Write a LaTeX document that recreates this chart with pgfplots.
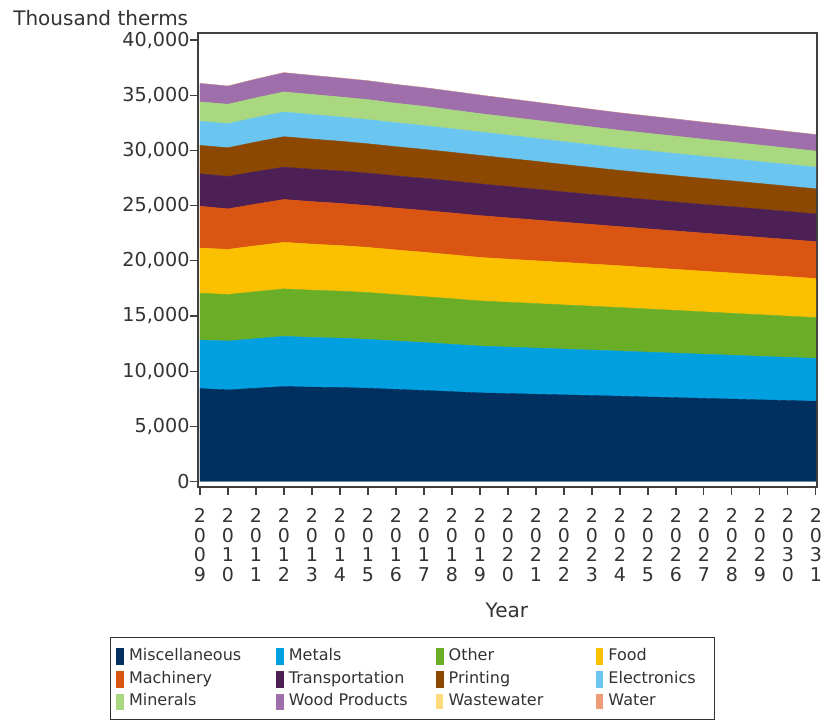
\documentclass[border=0pt]{standalone}
\usepackage{pgfplots}
\pgfplotsset{compat=1.18}
\usepackage{pgfplotstable}
\usepackage{fontspec}
\setmainfont{DejaVu Sans}
\definecolor{cmisc}{HTML}{00305F}
\definecolor{cmetals}{HTML}{009FDF}
\definecolor{cother}{HTML}{6AAE28}
\definecolor{cfood}{HTML}{FBC000}
\definecolor{cmach}{HTML}{DA5412}
\definecolor{ctrans}{HTML}{4D2055}
\definecolor{cprint}{HTML}{8C4700}
\definecolor{celec}{HTML}{6AC6F0}
\definecolor{cminer}{HTML}{AAD880}
\definecolor{cwood}{HTML}{9E6FAA}
\definecolor{cwaste}{HTML}{FFDA7B}
\definecolor{cwater}{HTML}{EE9C78}
\definecolor{txt}{HTML}{333333}

\pgfplotstableread{
year misc metals other food mach trans print elec miner wood waste water
2009 8420 4400 4240 4090 3790 2940 2570 2190 1750 1670 25 15
2010 8300 4430 4210 4090 3670 2940 2600 2180 1760 1640 25 15
2011 8450 4490 4260 4160 3780 2940 2680 2210 1790 1690 25 15
2012 8610 4540 4300 4220 3880 2930 2760 2240 1820 1730 25 15
2013 8550 4500 4280 4180 3850 2935 2730 2220 1820 1720 25 15
2014 8520 4470 4260 4130 3820 2940 2690 2200 1810 1710 25 15
2015 8450 4430 4240 4090 3790 2940 2660 2190 1810 1700 25 15
2016 8350 4380 4200 4050 3790 2925 2640 2170 1770 1690 25 15
2017 8250 4340 4160 4020 3790 2910 2620 2160 1740 1690 25 15
2018 8140 4290 4130 3980 3790 2895 2600 2140 1700 1680 25 15
2019 8030 4240 4090 3940 3790 2880 2580 2120 1660 1670 25 15
2020 7970 4210 4060 3910 3740 2840 2550 2100 1650 1650 25 15
2021 7910 4180 4030 3880 3690 2800 2520 2080 1640 1630 25 15
2022 7850 4150 4000 3850 3640 2750 2480 2070 1630 1610 25 15
2023 7790 4120 3970 3820 3590 2710 2450 2050 1620 1590 25 15
2024 7730 4090 3940 3790 3540 2670 2420 2030 1610 1570 25 15
2025 7660 4060 3910 3750 3510 2650 2400 2020 1590 1560 25 15
2026 7600 4030 3870 3720 3480 2620 2380 2010 1570 1550 25 15
2027 7530 4000 3840 3680 3450 2600 2360 2000 1550 1530 25 15
2028 7470 3970 3800 3650 3430 2580 2340 1990 1520 1520 25 15
2029 7400 3940 3770 3610 3400 2560 2320 1980 1500 1510 25 15
2030 7340 3910 3730 3580 3370 2530 2300 1970 1480 1490 25 15
2031 7270 3880 3700 3540 3340 2510 2280 1960 1460 1480 25 15
}\datatable

\newcommand{\lent}[1]{\makebox[50pt][l]{#1}}
\newcommand{\yr}[4]{\vbox{\baselineskip=9.85pt\lineskiplimit=-100pt\hbox{#1}\hbox{#2}\hbox{#3}\hbox{#4}}}

\begin{document}
\begin{tikzpicture}
\useasboundingbox (-99pt,-116pt) rectangle (312pt,243.5pt);
\begin{axis}[
  at={(0pt,0pt)}, anchor=south west,
  width=309.5pt, height=227pt, scale only axis,
  xmin=2008.93, xmax=2031.04, ymin=-500, ymax=40635,
  stack plots=y,
  axis line style={draw=black!75, line width=0.6pt},
  tick style={draw=black!75, line width=0.6pt},
  tick align=outside, major tick length=4pt,
  xtick pos=lower, ytick pos=lower,
  xtick={2009,2010,...,2031},
  xticklabels={\yr2009,\yr2010,\yr2011,\yr2012,\yr2013,\yr2014,\yr2015,\yr2016,\yr2017,\yr2018,\yr2019,\yr2020,\yr2021,\yr2022,\yr2023,\yr2024,\yr2025,\yr2026,\yr2027,\yr2028,\yr2029,\yr2030,\yr2031},
  x tick label style={font=\fontsize{9.5}{9.85}\selectfont, text=txt, inner sep=0pt, anchor=north, yshift=-6.5pt},
  ytick={0,5000,...,40000},
  scaled y ticks=false,
  yticklabel style={/pgf/number format/1000 sep={,}, font=\fontsize{9.6}{11}\selectfont, text=txt, inner sep=0pt, anchor=east},
  /pgf/number format/assume math mode=true,
  ylabel={Thousand therms},
  ylabel style={rotate=-90, at={(axis description cs:-0.299,1.034)}, anchor=west, inner sep=0pt, font=\fontsize{10}{12}\selectfont, text=txt},
  xlabel={Year},
  xlabel style={at={(axis description cs:0.499,-0.271)}, anchor=center, inner sep=0pt, font=\fontsize{10}{12}\selectfont, text=txt},
  legend columns=4,
  legend image code/.code={\fill[#1] (0pt,-3.9pt) rectangle (3.3pt,3.9pt);},
  legend style={at={(axis description cs:-0.1422,-0.3313)}, anchor=north west,
    draw=black!80, line width=0.5pt, inner xsep=3pt, inner ysep=5.2pt,
    font=\fontsize{8}{9.6}\selectfont, text=txt,
    nodes={inner sep=0pt, text height=6pt, text depth=1.8pt},
    row sep=3.3pt,
    cells={anchor=west},
    /tikz/every odd column/.append style={column sep=2.8pt},
    /tikz/every even column/.append style={column sep=23.6pt}},
]
\addplot[fill=cmisc, draw=cmisc, line width=0.2pt] table[x=year,y=misc]{\datatable} \closedcycle;
\addlegendentry{\lent{Miscellaneous}}
\addplot[fill=cmetals, draw=cmetals, line width=0.2pt] table[x=year,y=metals]{\datatable} \closedcycle;
\addlegendentry{\lent{Metals}}
\addplot[fill=cother, draw=cother, line width=0.2pt] table[x=year,y=other]{\datatable} \closedcycle;
\addlegendentry{\lent{Other}}
\addplot[fill=cfood, draw=cfood, line width=0.2pt] table[x=year,y=food]{\datatable} \closedcycle;
\addlegendentry{\lent{Food}}
\addplot[fill=cmach, draw=cmach, line width=0.2pt] table[x=year,y=mach]{\datatable} \closedcycle;
\addlegendentry{\lent{Machinery}}
\addplot[fill=ctrans, draw=ctrans, line width=0.2pt] table[x=year,y=trans]{\datatable} \closedcycle;
\addlegendentry{\lent{Transportation}}
\addplot[fill=cprint, draw=cprint, line width=0.2pt] table[x=year,y=print]{\datatable} \closedcycle;
\addlegendentry{\lent{Printing}}
\addplot[fill=celec, draw=celec, line width=0.2pt] table[x=year,y=elec]{\datatable} \closedcycle;
\addlegendentry{\lent{Electronics}}
\addplot[fill=cminer, draw=cminer, line width=0.2pt] table[x=year,y=miner]{\datatable} \closedcycle;
\addlegendentry{\lent{Minerals}}
\addplot[fill=cwood, draw=cwood, line width=0.2pt] table[x=year,y=wood]{\datatable} \closedcycle;
\addlegendentry{\lent{Wood Products}}
\addplot[fill=cwaste, draw=none] table[x=year,y=waste]{\datatable} \closedcycle;
\addlegendentry{\lent{Wastewater}}
\addplot[fill=cwater, draw=none] table[x=year,y=water]{\datatable} \closedcycle;
\addlegendentry{\lent{Water}}
\end{axis}
\end{tikzpicture}
\end{document}
